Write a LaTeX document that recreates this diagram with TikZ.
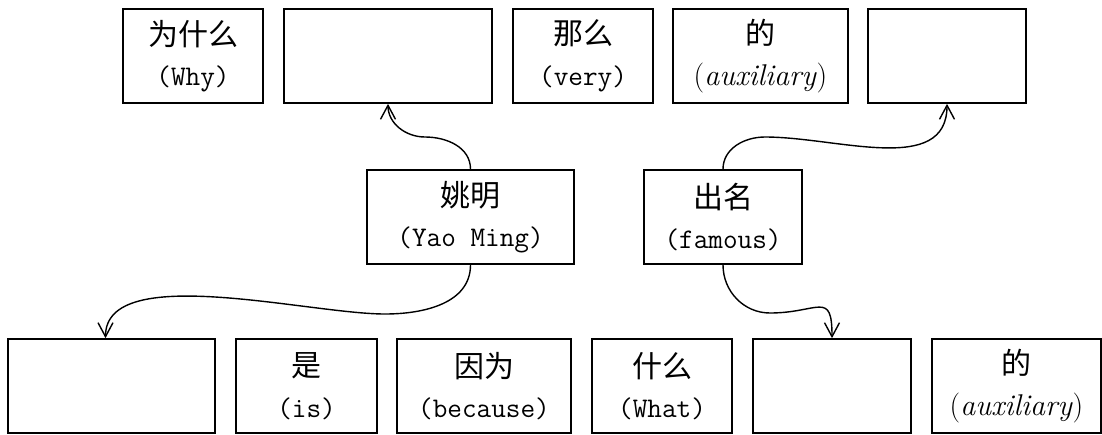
\documentclass[tikz,border=0pt]{standalone}
\usepackage{fontspec}
\newfontfamily\cjk{Noto Sans CJK SC}
\usetikzlibrary{arrows.meta}
\newcommand\zh[1]{{\cjk\fontsize{15}{20.3}\selectfont #1}}
\newcommand\aux{{\rmfamily\fontsize{15}{20.3}\selectfont(\textit{auxiliary})}}
\tikzset{
  wbox/.style={draw, line width=0.85pt, minimum height=47pt, inner sep=0pt,
    align=center, font=\fontsize{14.2}{20.3}\selectfont\ttfamily},
  conn/.style={line width=0.7pt, -{Straight Barb[length=7pt,width=7.5pt]}},
}
\begin{document}
\begin{tikzpicture}[x=0.5pt,y=0.5pt]
\useasboundingbox (0,0) rectangle (1102,-434);
% top row
\node[wbox, minimum width=70pt]   (t1) at (193,-56)   {\zh{为什么}\\(Why)};
\node[wbox, minimum width=104pt]  (t2) at (388,-56)   {};
\node[wbox, minimum width=70pt]   (t3) at (583,-56)   {\zh{那么}\\(very)};
\node[wbox, minimum width=87.5pt] (t4) at (760.5,-56) {\zh{的}\\\aux};
\node[wbox, minimum width=79pt]   (t5) at (947,-56)   {};
% middle row
\node[wbox, minimum width=103.5pt] (m1) at (470.5,-217) {\zh{姚明}\\(Yao Ming)};
\node[wbox, minimum width=79pt]    (m2) at (723,-217)   {\zh{出名}\\(famous)};
% bottom row
\node[wbox, minimum width=103.5pt] (b1) at (111.5,-386)  {};
\node[wbox, minimum width=70.5pt]  (b2) at (306.5,-386)  {\zh{是}\\(is)};
\node[wbox, minimum width=87pt]    (b3) at (484,-386)    {\zh{因为}\\(because)};
\node[wbox, minimum width=70pt]    (b4) at (662,-386)    {\zh{什么}\\(What)};
\node[wbox, minimum width=79pt]    (b5) at (832,-386)    {};
\node[wbox, minimum width=84.5pt]  (b6) at (1016.5,-386) {\zh{的}\\\aux};
% waypoints
\coordinate (w1) at (425,-137);
\coordinate (w2) at (385,-314);
\coordinate (w3) at (765,-137);
\coordinate (w4) at (770,-313);
% connectors
\draw[conn] (m1.north) to[out=90,in=0] (w1) to[out=180,in=-90] (t2.south);
\draw[conn] (m1.south) to[out=-90,in=0] (w2) to[out=180,in=90,looseness=0.7] ([xshift=-3pt]b1.north);
\draw[conn] (m2.north) to[out=90,in=180] (w3) to[out=0,in=-90] (t5.south);
\draw[conn] (m2.south) to[out=-90,in=180] (w4) to[out=0,in=90,looseness=1.86] (b5.north);
\end{tikzpicture}
\end{document}
